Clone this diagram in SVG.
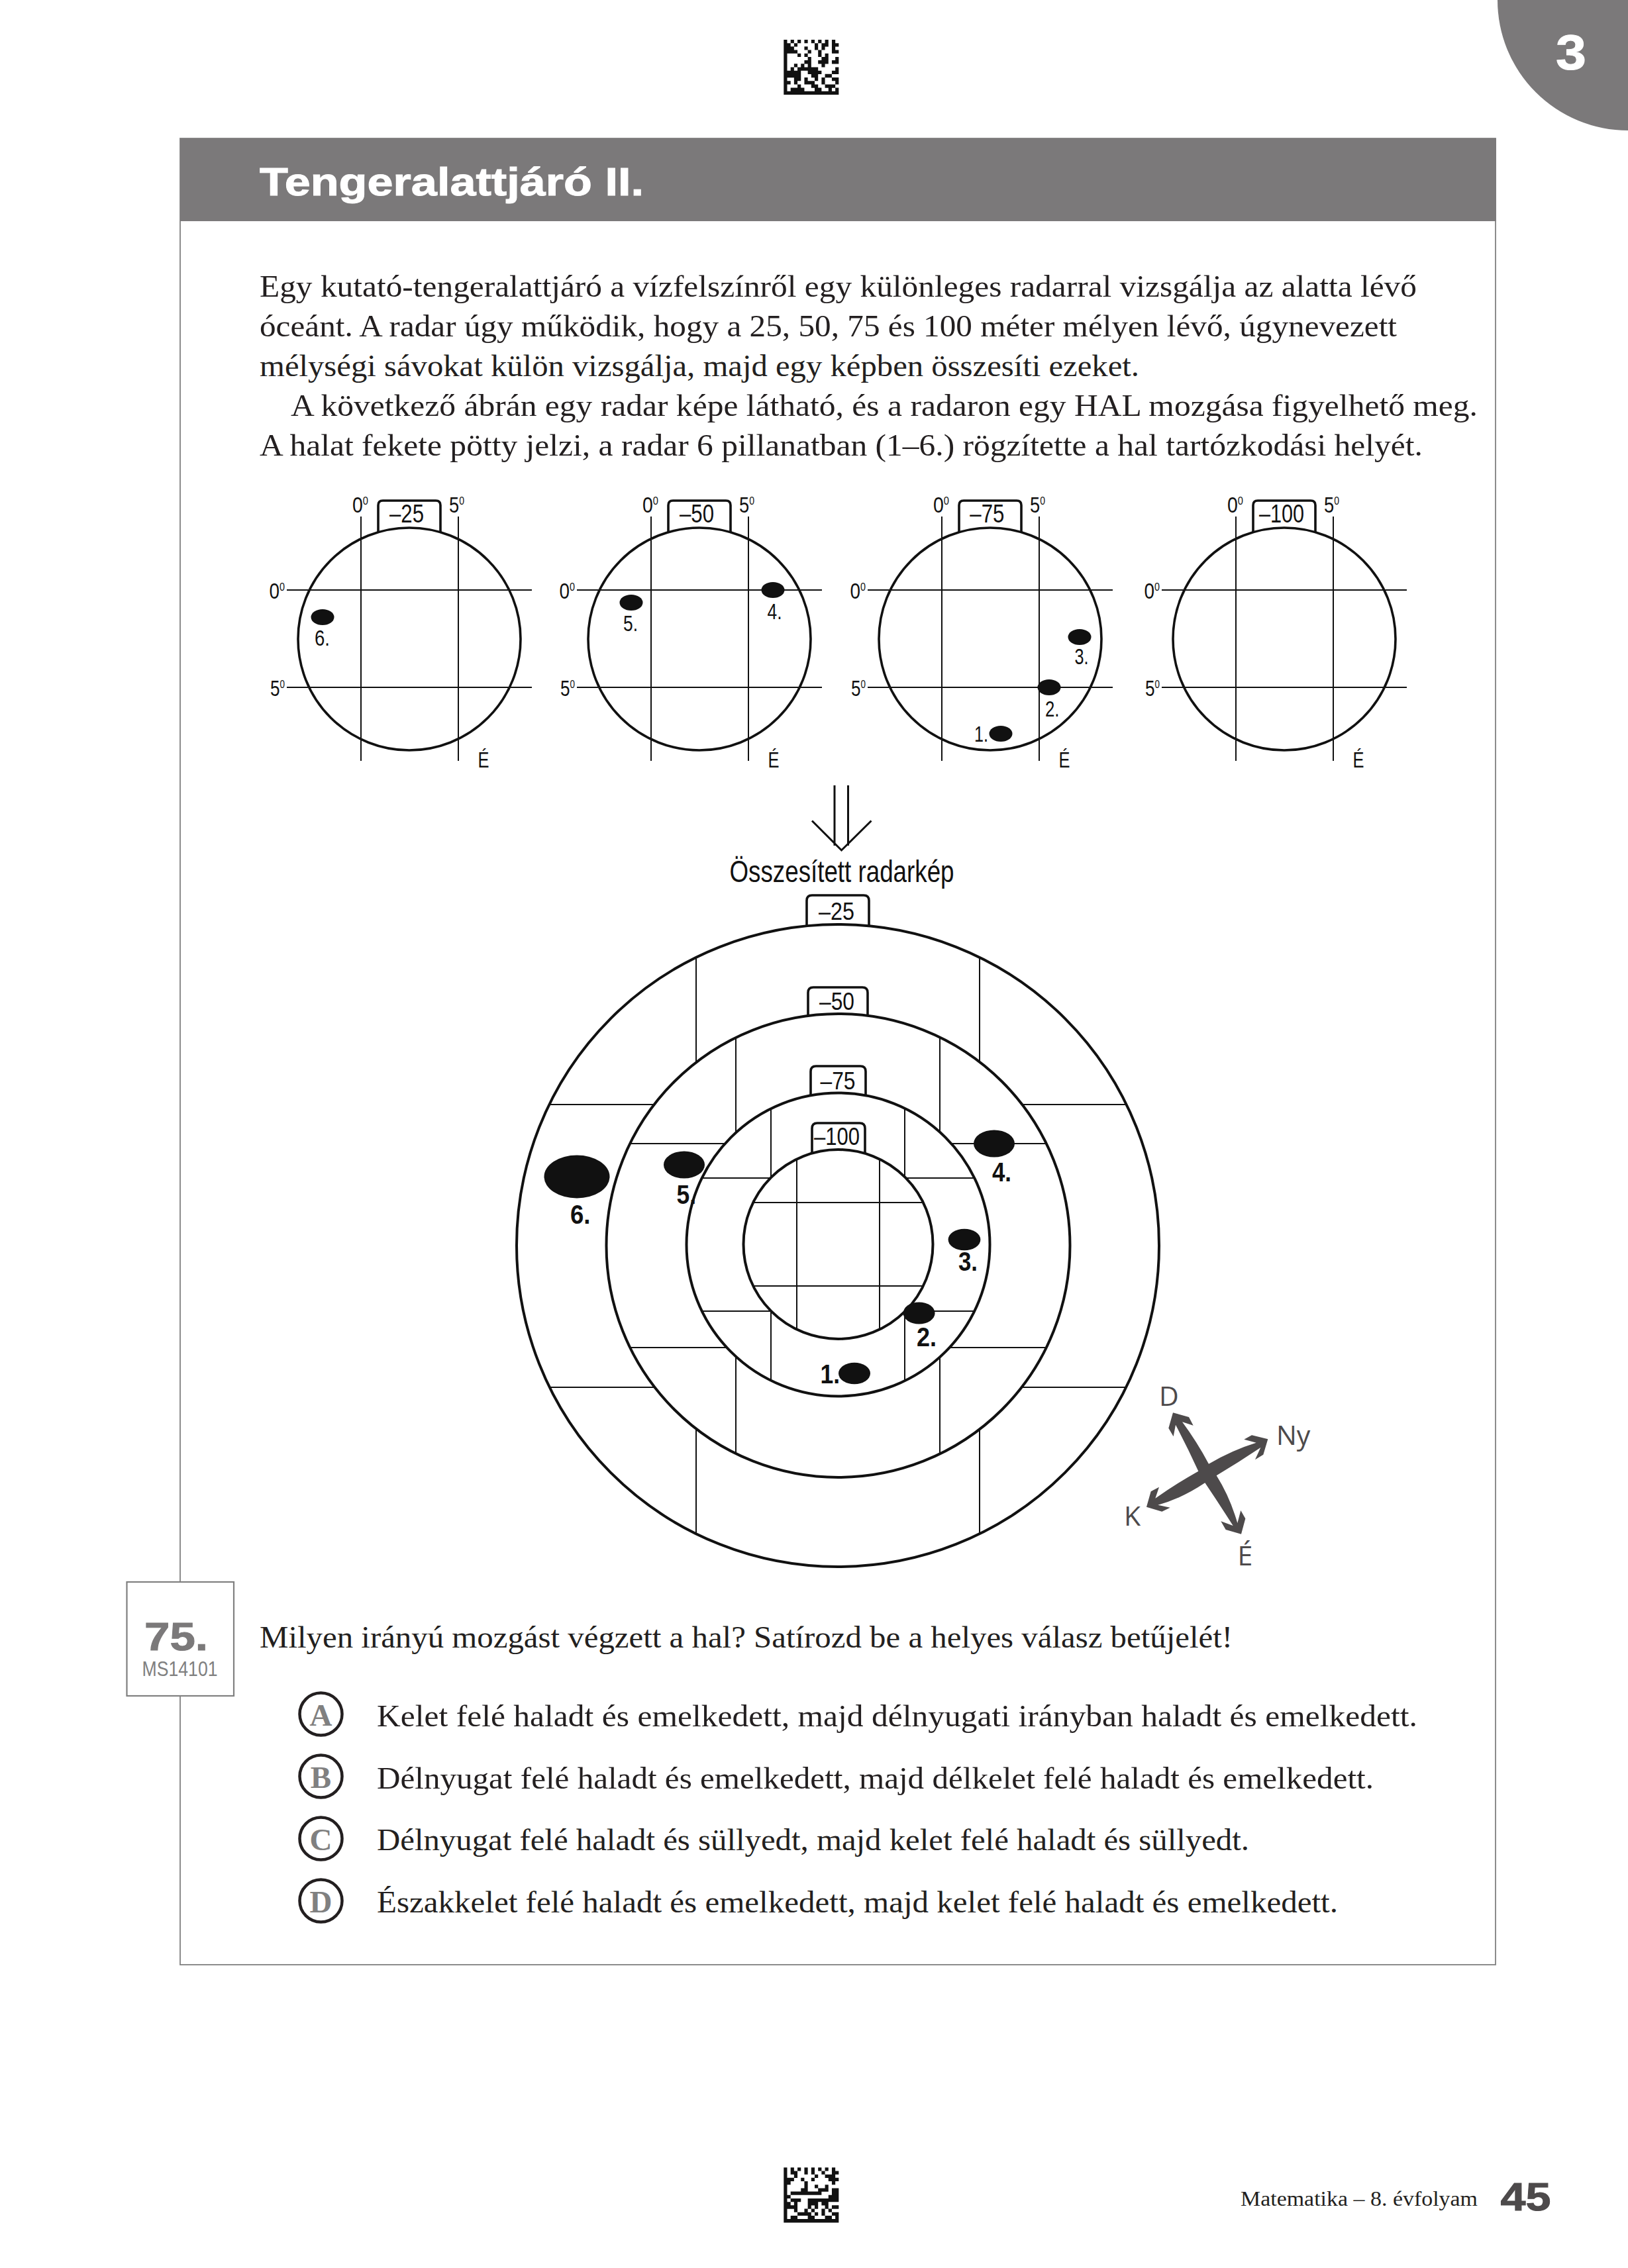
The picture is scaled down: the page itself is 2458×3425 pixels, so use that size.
<svg xmlns="http://www.w3.org/2000/svg" xmlns:xlink="http://www.w3.org/1999/xlink" width="2458" height="3425" viewBox="0 0 2458 3425">
<style>
text{font-family:"Liberation Sans",Arial,sans-serif;fill:#111}
.body{font-family:"Liberation Serif","Times New Roman",serif;font-size:47px;fill:#231f20}
.h{fill:#fff;font-weight:bold;stroke:#fff;stroke-width:1}
.deg{font-size:33px}.sup{font-size:17px}
.tab{font-size:38px}.tab2{font-size:36px}
.mlab{font-size:34px}.blab{font-size:40px;font-weight:bold}
.lbl{font-family:"Open Sans","Liberation Sans",sans-serif;font-size:41px;fill:#4d4a4b}
.opt{font-family:"Liberation Serif",serif;font-size:47px;font-weight:bold;fill:#808080;text-anchor:middle}
.ring{fill:#fff;stroke:#111;stroke-width:4}
.mini{fill:#fff;stroke:#111;stroke-width:3.6}
.tb{fill:#fff;stroke:#111;stroke-width:3.6}
.thin{stroke:#111;stroke-width:2;fill:none}
.dot{fill:#111}
.optc{fill:#fff;stroke:#231f20;stroke-width:4.5}
.dm{fill:none;stroke:#111;stroke-width:1.02}
</style>
<defs>
<g id="miniGrid">
<path class="thin" d="M-73 -185V184M74 -185V184M-185 -74H185M-185 73H185"/>
<path class="tb" d="M-47 -150V-202Q-47 -209 -40 -209H40Q47 -209 47 -202V-150"/>
<circle class="mini" r="168"/>
<path class="thin" d="M-73 -150V184M74 -150V184M-185 -74H185M-185 73H185" stroke-width="2"/>
</g>
</defs>
<rect width="2458" height="3425" fill="#fff"/>

<g id="corner-tab">
<path d="M2261 0A197 197 0 0 0 2458 197V0Z" fill="#7b797a"/>
<text x="2349" y="105" font-size="75" font-weight="bold" class="h" textLength="46" lengthAdjust="spacingAndGlyphs">3</text>
</g>

<g id="datamatrix-top" transform="translate(1183.3,60) scale(5.19)">
<path class="dm" d="M0 .5h1m1 0h1m1 0h1m1 0h1m1 0h1m1 0h1m1 0h1m1 0h1M0 1.5h2m1 0h1m5 0h1m1 0h2m1 0h2M0 2.5h3m3 0h1m2 0h1m1 0h1m2 0h1M0 3.5h4m3 0h1m2 0h1m3 0h2M0 4.5h1m3 0h1m1 0h1m3 0h1m1 0h1M0 5.5h1m6 0h1m3 0h2m2 0h1M0 6.5h1m5 0h2m2 0h3m1 0h2M0 7.5h1m2 0h1m1 0h1m1 0h1m3 0h1M0 8.5h1m1 0h1m1 0h6m5 0h1M0 9.5h5m2 0h4m3 0h2M0 10.5h5m3 0h2m2 0h2M0 11.5h1m2 0h2m1 0h1m2 0h1m1 0h1m2 0h2M0 12.5h2m1 0h1m2 0h3m2 0h1m3 0h1M0 13.5h1m3 0h1m3 0h2m2 0h3M0 14.5h1m1 0h4m3 0h2m2 0h1m1 0h1M0 15.5h16"/>
</g>

<g id="question-frame">
<rect x="272" y="209" width="1986" height="2758" fill="#fff" stroke="#808080" stroke-width="1.8"/>
<rect x="272" y="209" width="1987" height="125" fill="#7b797a"/>
<text x="392" y="295" font-size="60" class="h" textLength="580" lengthAdjust="spacingAndGlyphs">Tengeralattjáró II.</text>
</g>

<g id="intro">
<text class="body" x="392" y="447.5" textLength="1747" lengthAdjust="spacingAndGlyphs">Egy kutató-tengeralattjáró a vízfelszínről egy különleges radarral vizsgálja az alatta lévő</text>
<text class="body" x="392" y="507.5" textLength="1717" lengthAdjust="spacingAndGlyphs">óceánt. A radar úgy működik, hogy a 25, 50, 75 és 100 méter mélyen lévő, úgynevezett</text>
<text class="body" x="392" y="567.5" textLength="1328" lengthAdjust="spacingAndGlyphs">mélységi sávokat külön vizsgálja, majd egy képben összesíti ezeket.</text>
<text class="body" x="439" y="627.5" textLength="1792" lengthAdjust="spacingAndGlyphs">A következő ábrán egy radar képe látható, és a radaron egy HAL mozgása figyelhető meg.</text>
<text class="body" x="392" y="687.5" textLength="1756" lengthAdjust="spacingAndGlyphs">A halat fekete pötty jelzi, a radar 6 pillanatban (1–6.) rögzítette a hal tartózkodási helyét.</text>
</g>

<g id="radar-25" transform="translate(618,965)">
<use href="#miniGrid"/>
<text class="tab" x="-30" y="-176" textLength="52" lengthAdjust="spacingAndGlyphs">–25</text>
<text class="deg" x="-86" y="-191" textLength="24" lengthAdjust="spacingAndGlyphs">0<tspan class="sup" dy="-12">0</tspan></text>
<text class="deg" x="60" y="-191" textLength="23" lengthAdjust="spacingAndGlyphs">5<tspan class="sup" dy="-12">0</tspan></text>
<text class="deg" x="-211.5" y="-61" textLength="23.5" lengthAdjust="spacingAndGlyphs">0<tspan class="sup" dy="-12">0</tspan></text>
<text class="deg" x="-210" y="86" textLength="22" lengthAdjust="spacingAndGlyphs">5<tspan class="sup" dy="-12">0</tspan></text>
<text class="deg" x="103.5" y="194" textLength="17" lengthAdjust="spacingAndGlyphs">É</text>
<ellipse class="dot" cx="-131" cy="-33" rx="17.5" ry="12"/>
<text class="mlab" x="-143" y="10" textLength="23" lengthAdjust="spacingAndGlyphs">6.</text>
</g>
<g id="radar-50" transform="translate(1056,965)">
<use href="#miniGrid"/>
<text class="tab" x="-30" y="-176" textLength="52" lengthAdjust="spacingAndGlyphs">–50</text>
<text class="deg" x="-86" y="-191" textLength="24" lengthAdjust="spacingAndGlyphs">0<tspan class="sup" dy="-12">0</tspan></text>
<text class="deg" x="60" y="-191" textLength="23" lengthAdjust="spacingAndGlyphs">5<tspan class="sup" dy="-12">0</tspan></text>
<text class="deg" x="-211.5" y="-61" textLength="23.5" lengthAdjust="spacingAndGlyphs">0<tspan class="sup" dy="-12">0</tspan></text>
<text class="deg" x="-210" y="86" textLength="22" lengthAdjust="spacingAndGlyphs">5<tspan class="sup" dy="-12">0</tspan></text>
<text class="deg" x="103.5" y="194" textLength="17" lengthAdjust="spacingAndGlyphs">É</text>
<ellipse class="dot" cx="-103" cy="-55" rx="17.5" ry="12"/>
<text class="mlab" x="-115" y="-12" textLength="22" lengthAdjust="spacingAndGlyphs">5.</text>
<ellipse class="dot" cx="111" cy="-74" rx="17.5" ry="12"/>
<text class="mlab" x="102.5" y="-30" textLength="22" lengthAdjust="spacingAndGlyphs">4.</text>
</g>
<g id="radar-75" transform="translate(1495,965)">
<use href="#miniGrid"/>
<text class="tab" x="-30.7" y="-176" textLength="52" lengthAdjust="spacingAndGlyphs">–75</text>
<text class="deg" x="-86" y="-191" textLength="24" lengthAdjust="spacingAndGlyphs">0<tspan class="sup" dy="-12">0</tspan></text>
<text class="deg" x="60" y="-191" textLength="23" lengthAdjust="spacingAndGlyphs">5<tspan class="sup" dy="-12">0</tspan></text>
<text class="deg" x="-211.5" y="-61" textLength="23.5" lengthAdjust="spacingAndGlyphs">0<tspan class="sup" dy="-12">0</tspan></text>
<text class="deg" x="-210" y="86" textLength="22" lengthAdjust="spacingAndGlyphs">5<tspan class="sup" dy="-12">0</tspan></text>
<text class="deg" x="103.5" y="194" textLength="17" lengthAdjust="spacingAndGlyphs">É</text>
<ellipse class="dot" cx="135" cy="-3" rx="17.5" ry="12"/>
<text class="mlab" x="127.5" y="38" textLength="21" lengthAdjust="spacingAndGlyphs">3.</text>
<ellipse class="dot" cx="89" cy="73" rx="17.5" ry="12"/>
<text class="mlab" x="83" y="117" textLength="21.5" lengthAdjust="spacingAndGlyphs">2.</text>
<ellipse class="dot" cx="16" cy="143" rx="17.5" ry="12"/>
<text class="mlab" x="-24" y="155" textLength="21" lengthAdjust="spacingAndGlyphs">1.</text>
</g>
<g id="radar-100" transform="translate(1939,965)">
<use href="#miniGrid"/>
<text class="tab" x="-38" y="-176" textLength="68" lengthAdjust="spacingAndGlyphs">–100</text>
<text class="deg" x="-86" y="-191" textLength="24" lengthAdjust="spacingAndGlyphs">0<tspan class="sup" dy="-12">0</tspan></text>
<text class="deg" x="60" y="-191" textLength="23" lengthAdjust="spacingAndGlyphs">5<tspan class="sup" dy="-12">0</tspan></text>
<text class="deg" x="-211.5" y="-61" textLength="23.5" lengthAdjust="spacingAndGlyphs">0<tspan class="sup" dy="-12">0</tspan></text>
<text class="deg" x="-210" y="86" textLength="22" lengthAdjust="spacingAndGlyphs">5<tspan class="sup" dy="-12">0</tspan></text>
<text class="deg" x="103.5" y="194" textLength="17" lengthAdjust="spacingAndGlyphs">É</text>
</g>

<g id="connectors">
<path fill="none" stroke="#111" stroke-width="3" stroke-linejoin="miter" d="M1260 1186V1277M1280.5 1186V1277M1226 1239.5L1270.5 1284L1315.5 1239.5"/>
</g>

<text id="summary-title" x="1101.5" y="1332" font-size="46" textLength="339" lengthAdjust="spacingAndGlyphs">Összesített radarkép</text>

<g id="summary-radar">
<path class="tb" d="M1218 1410V1360Q1218 1352 1226 1352H1304Q1312 1352 1312 1360V1410"/>
<circle class="ring" cx="1265" cy="1881" r="485"/>
<path class="thin" d="M1051 1446V2316M1479 1446V2316M830 1668H1700M830 2095H1700"/>
<path class="tb" d="M1220 1545V1499Q1220 1491 1228 1491H1302Q1310 1491 1310 1499V1545"/>
<circle class="ring" cx="1265.5" cy="1881" r="350"/>
<path class="thin" d="M1111 1567V2195M1419 1567V2195M951 1727H1580M951 2035H1580"/>
<path class="tb" d="M1224 1665V1618Q1224 1610 1232 1610H1299Q1307 1610 1307 1618V1665"/>
<circle class="ring" cx="1265.5" cy="1879.5" r="229"/>
<path class="thin" d="M1164 1674V2085M1366 1674V2085M1060 1779H1471M1060 1980H1471"/>
<path class="tb" d="M1226 1750V1704Q1226 1696 1234 1696H1298Q1306 1696 1306 1704V1750"/>
<circle class="ring" cx="1265.5" cy="1879" r="143"/>
<path class="thin" d="M1203 1751V2007M1328 1751V2007M1137 1816H1394M1137 1942H1394"/>
<text class="tab2" x="1236" y="1389" textLength="54" lengthAdjust="spacingAndGlyphs">–25</text>
<text class="tab2" x="1237" y="1524.5" textLength="53" lengthAdjust="spacingAndGlyphs">–50</text>
<text class="tab2" x="1238.5" y="1644.5" textLength="53" lengthAdjust="spacingAndGlyphs">–75</text>
<text class="tab2" x="1229" y="1729" textLength="69" lengthAdjust="spacingAndGlyphs">–100</text>
</g>

<g id="fish-positions">
<ellipse class="dot" cx="871" cy="1777" rx="49.5" ry="32.5"/>
<text class="blab" x="861" y="1848" textLength="30.5" lengthAdjust="spacingAndGlyphs">6.</text>
<ellipse class="dot" cx="1033" cy="1759" rx="31" ry="20.6"/>
<text class="blab" x="1021.5" y="1817.5" textLength="29.5" lengthAdjust="spacingAndGlyphs">5.</text>
<ellipse class="dot" cx="1501" cy="1727" rx="31" ry="20.5"/>
<text class="blab" x="1498" y="1783.5" textLength="29" lengthAdjust="spacingAndGlyphs">4.</text>
<ellipse class="dot" cx="1456" cy="1872" rx="24.4" ry="16.3"/>
<text class="blab" x="1447" y="1918.5" textLength="29" lengthAdjust="spacingAndGlyphs">3.</text>
<ellipse class="dot" cx="1387.6" cy="1983" rx="24" ry="16.5"/>
<text class="blab" x="1384" y="2032.5" textLength="30" lengthAdjust="spacingAndGlyphs">2.</text>
<ellipse class="dot" cx="1290" cy="2074" rx="24" ry="16.3"/>
<text class="blab" x="1238.5" y="2089" textLength="29.5" lengthAdjust="spacingAndGlyphs">1.</text>
</g>

<g id="compass">
<path transform="translate(1690,2080) scale(.33333)" fill="#4d4a4b" d="M243 160L315 180L335 218L285 202Q350 290 405 392Q510 330 620 296L565 281L600 262L673 280L652 350L615 373L640 318Q540 385 440 445Q500 540 535 660L550 603L571 640L552 710L482 690L460 652L515 672Q450 570 388 478Q280 550 175 578L230 590L193 608L123 587L143 517L180 497L163 548Q260 480 358 425Q310 320 255 215L245 268L223 230Z"/>
<text class="lbl" x="1750" y="2122.5">D</text>
<text class="lbl" x="1927" y="2181.5">Ny</text>
<text class="lbl" x="1697" y="2304">K</text>
<text class="lbl" x="1868.5" y="2364">É</text>
</g>

<g id="item-number">
<rect x="191.5" y="2389" width="161.5" height="172" fill="#fff" stroke="#808080" stroke-width="2.2"/>
<text x="218" y="2492" font-size="60" font-weight="bold" style="fill:#7b797a;stroke:#7b797a;stroke-width:1" textLength="96" lengthAdjust="spacingAndGlyphs">75.</text>
<text x="214.5" y="2531" font-size="32" style="fill:#808080" textLength="114" lengthAdjust="spacingAndGlyphs">MS14101</text>
</g>

<text id="question" class="body" x="392" y="2487.5" textLength="1469" lengthAdjust="spacingAndGlyphs">Milyen irányú mozgást végzett a hal? Satírozd be a helyes válasz betűjelét!</text>

<g id="option-a"><circle class="optc" cx="484.5" cy="2588.5" r="32"/><text class="opt" x="484.5" y="2606">A</text>
<text class="body" x="569" y="2606.5" textLength="1571" lengthAdjust="spacingAndGlyphs">Kelet felé haladt és emelkedett, majd délnyugati irányban haladt és emelkedett.</text></g>
<g id="option-b"><circle class="optc" cx="484.5" cy="2682.5" r="32"/><text class="opt" x="484.5" y="2700">B</text>
<text class="body" x="569" y="2700.5" textLength="1505" lengthAdjust="spacingAndGlyphs">Délnyugat felé haladt és emelkedett, majd délkelet felé haladt és emelkedett.</text></g>
<g id="option-c"><circle class="optc" cx="484.5" cy="2776.5" r="32"/><text class="opt" x="484.5" y="2794">C</text>
<text class="body" x="569" y="2794" textLength="1317" lengthAdjust="spacingAndGlyphs">Délnyugat felé haladt és süllyedt, majd kelet felé haladt és süllyedt.</text></g>
<g id="option-d"><circle class="optc" cx="484.5" cy="2870.5" r="32"/><text class="opt" x="484.5" y="2888">D</text>
<text class="body" x="569" y="2887.5" textLength="1451" lengthAdjust="spacingAndGlyphs">Északkelet felé haladt és emelkedett, majd kelet felé haladt és emelkedett.</text></g>

<g id="datamatrix-bottom" transform="translate(1183.3,3273.3) scale(5.19)">
<path class="dm" d="M0 .5h1m1 0h1m1 0h1m1 0h1m1 0h1m1 0h1m1 0h1m1 0h1M0 1.5h1m1 0h2m2 0h1m1 0h1m2 0h1m2 0h2M0 2.5h1m2 0h1m5 0h1m2 0h3M0 3.5h3m2 0h1m2 0h1m4 0h3M0 4.5h2m4 0h1m7 0h1M0 5.5h1m5 0h1m2 0h1m2 0h1M0 6.5h1m4 0h2m3 0h3m1 0h2M0 7.5h1m1 0h9m3 0h2M0 8.5h2m11 0h3M0 9.5h1m1 0h3m2 0h9M0 10.5h2m1 0h1m3 0h3m1 0h2M0 11.5h4m3 0h1m1 0h1m2 0h1m1 0h2M0 12.5h1m2 0h1m2 0h1m1 0h1m2 0h1m1 0h1M0 13.5h1m3 0h4m1 0h1m1 0h1m2 0h2M0 14.5h1m1 0h2m3 0h2m3 0h2m1 0h1M0 15.5h16"/>
</g>

<g id="footer">
<text class="body" x="1873" y="3330.5" style="font-size:31px" textLength="358" lengthAdjust="spacingAndGlyphs">Matematika – 8. évfolyam</text>
<text x="2265.5" y="3338" font-size="60" font-weight="bold" style="fill:#4d4a4b;stroke:#4d4a4b;stroke-width:1" textLength="76" lengthAdjust="spacingAndGlyphs">45</text>
</g>
</svg>
